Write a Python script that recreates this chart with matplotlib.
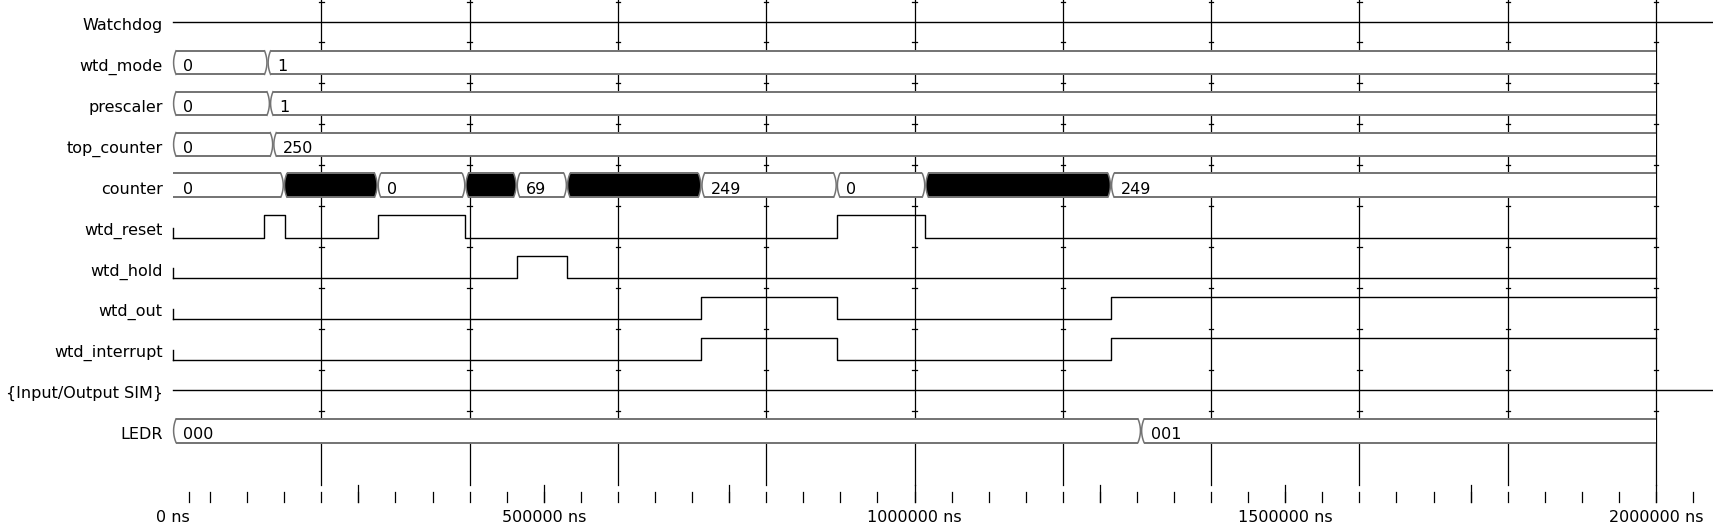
import matplotlib
matplotlib.use("Agg")
import matplotlib.pyplot as plt
import numpy as np

# ---------------- data ----------------
signal_names = ["Watchdog", "wtd_mode", "prescaler", "top_counter", "counter",
                "wtd_reset", "wtd_hold", "wtd_out", "wtd_interrupt",
                "{Input/Output SIM}", "LEDR"]

T_END = 2000000

wtd_mode_edges = [0, 127500, T_END]
wtd_mode_values = ["0", "1"]
prescaler_edges = [0, 130800, T_END]
prescaler_values = ["0", "1"]
top_counter_edges = [0, 135200, T_END]
top_counter_values = ["0", "250"]
counter_edges = [0, 149500, 276000, 394300, 463500, 531300, 712600, 895200,
                 1014600, 1265000, T_END]
counter_values = ["0", None, "0", None, "69", None, "249", "0", None, "249"]
LEDR_edges = [0, 1305500, T_END]
LEDR_values = ["000", "001"]

wtd_reset_times = [0, 123300, 151500, 276000, 394300, 895200, 1014600]
wtd_reset_levels = [0, 1, 0, 1, 0, 1, 0]
wtd_hold_times = [0, 463500, 531300]
wtd_hold_levels = [0, 1, 0]
wtd_out_times = [0, 712600, 895200, 1265000]
wtd_out_levels = [0, 1, 0, 1]
wtd_interrupt_times = [0, 712600, 895200, 1265000]
wtd_interrupt_levels = [0, 1, 0, 1]

grid_times = list(range(200000, 2000001, 200000))
minor_tick_times = [22000] + list(range(50000, 2050001, 50000))
major_tick_times = list(range(250000, 2000001, 250000))
tick_label_times = [0, 500000, 1000000, 1500000, 2000000]
tick_label_texts = ["0 ns", "500000 ns", "1000000 ns", "1500000 ns", "2000000 ns"]

# ---------------- layout ----------------
W, H = 1713, 529
X0_PX = 173.0
SCALE = 1483.0 / 2000000.0      # px per ns
ROW0 = 21.7
ROW_H = 40.9
BUS_H = 11.8
BIT_H = 11.3
BUS_GREY = "#737373"
FS = 11.5

plt.rcParams["font.family"] = ["DejaVu Sans"]

def dx(px):
    return px / SCALE

def row_y(i):
    return ROW0 + ROW_H * i

fig = plt.figure(figsize=(W / 100, H / 100), dpi=100)
ax = fig.add_axes([0, 0, 1, 1])
ax.set_xlim(-X0_PX / SCALE, (W - X0_PX) / SCALE)
ax.set_ylim(H, 0)
ax.axis("off")

# grid lines
grid_bottom = 485
for t in grid_times:
    ax.plot([t, t], [0, grid_bottom], color="black", lw=0.9, zorder=1)
    for i in range(11):
        yb = 1.5 + 40.9 * i
        ax.plot([t - dx(2.2), t + dx(2.2)], [yb, yb], color="black", lw=0.9, zorder=1)

# bottom ticks
for t in minor_tick_times:
    ax.plot([t, t], [492, 502], color="black", lw=0.9)
for t in major_tick_times:
    ax.plot([t, t], [485, 502], color="black", lw=0.9)
for t, s in zip(tick_label_times, tick_label_texts):
    ax.text(t, 521.5, s, ha="center", va="baseline", fontsize=FS)

# labels
for i, name in enumerate(signal_names):
    ax.text(dx(162.5 - X0_PX), row_y(i) + 8.2, name, ha="right", va="baseline", fontsize=FS)

D = dx(2.4)   # bracket depth
G = dx(0.6)   # half gap at transitions
u = np.linspace(-1, 1, 11)

def draw_bus(i, edges, values, left_bevel=True):
    c = row_y(i)
    for k, v in enumerate(values):
        t0, t1 = edges[k], edges[k + 1]
        lb = left_bevel or k > 0
        xl = (t0 + G) + D * u ** 2 if lb else np.full_like(u, t0)
        if k == len(values) - 1:
            xr = np.full_like(u, t1)
            rb = False
        else:
            xr = (t1 - G) - D * u ** 2
            rb = True
        ys = c + BUS_H * u
        px = np.concatenate([xl, xr[::-1]])
        py = np.concatenate([ys, ys[::-1]])
        face = "black" if v is None else "white"
        ax.fill(px, py, facecolor=face, edgecolor="none", zorder=3)
        ax.plot([xl[0], xr[0]], [c - BUS_H, c - BUS_H], color=BUS_GREY, lw=1.4, zorder=4,
                solid_capstyle="butt")
        ax.plot([xl[-1], xr[-1]], [c + BUS_H, c + BUS_H], color=BUS_GREY, lw=1.4, zorder=4,
                solid_capstyle="butt")
        if lb:
            ax.plot(xl, ys, color=BUS_GREY, lw=1.1, zorder=4)
        if rb:
            ax.plot(xr, ys, color=BUS_GREY, lw=1.1, zorder=4)
        if v is not None:
            ax.text(t0 + dx(9.5), c + 8.2, v, ha="left", va="baseline", fontsize=FS, zorder=5)

def draw_bit(i, times, levels):
    c = row_y(i)
    lo, hi = c + BIT_H, c - BIT_H
    xs, ys = [], []
    for k, (t, l) in enumerate(zip(times, levels)):
        y = hi if l else lo
        if k > 0:
            xs.append(t)
            ys.append(ys[-1])
        xs.append(t)
        ys.append(y)
    xs.append(T_END)
    ys.append(ys[-1])
    ax.plot(xs, ys, color="black", lw=1.0, zorder=4)
    ax.plot([times[0], times[0]], [lo, lo - 10], color="black", lw=1.0, zorder=4)

def draw_group(i):
    c = row_y(i)
    ax.plot([0, (W - X0_PX) / SCALE], [c, c], color="black", lw=1.0, zorder=4)

draw_group(0)
draw_bus(1, wtd_mode_edges, wtd_mode_values)
draw_bus(2, prescaler_edges, prescaler_values)
draw_bus(3, top_counter_edges, top_counter_values)
draw_bus(4, counter_edges, counter_values, left_bevel=False)
draw_bit(5, wtd_reset_times, wtd_reset_levels)
draw_bit(6, wtd_hold_times, wtd_hold_levels)
draw_bit(7, wtd_out_times, wtd_out_levels)
draw_bit(8, wtd_interrupt_times, wtd_interrupt_levels)
draw_group(9)
draw_bus(10, LEDR_edges, LEDR_values)

fig.savefig("out.png", dpi=100, facecolor="white")
